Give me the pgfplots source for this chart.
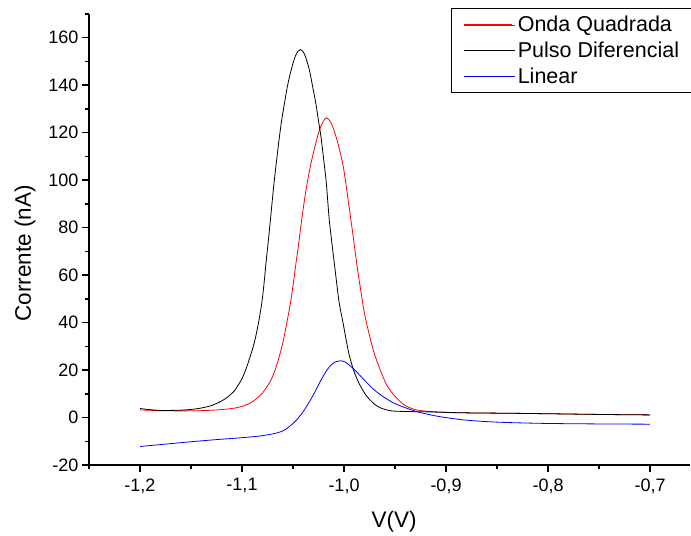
\documentclass[border=0pt]{standalone}
\usepackage{pgfplots}
\pgfplotsset{compat=1.18}
\usepackage{fontspec}
\setmainfont{Liberation Sans}
\usetikzlibrary{calc}
\begin{document}
\begin{tikzpicture}
\begin{axis}[
  name=ax,
  scale only axis=true,
  width=601bp, height=451bp,
  xmin=-1.25, xmax=-0.6608,
  ymin=-20, ymax=170,
  axis x line*=bottom, axis y line*=left,
  axis line style={line width=2bp},
  tick align=outside,
  major tick length=7bp, minor tick length=4bp,
  every tick/.style={black, line width=1.5bp},
  xtick={-1.2,-1.1,-1.0,-0.9,-0.8,-0.7},
  minor xtick={-1.25,-1.15,-1.05,-0.95,-0.85,-0.75},
  ytick={-20,0,20,40,60,80,100,120,140,160},
  minor ytick={-10,10,30,50,70,90,110,130,150,170},
  /pgf/number format/assume math mode=true,
  xticklabel style={/pgf/number format/.cd, fixed, fixed zerofill, precision=1, use comma, /tikz/.cd, yshift=-3bp},
  yticklabel style={/pgf/number format/.cd, fixed, precision=0},
  ticklabel style={font=\fontsize{18bp}{21bp}\selectfont},
  xlabel={V(V)}, ylabel={Corrente (nA)},
  label style={font=\fontsize{22.5bp}{26bp}\selectfont},
  xlabel style={yshift=-11bp, xshift=4.5bp},
  ylabel style={yshift=6bp, xshift=-14bp},
  xtick pos=bottom, ytick pos=left,
  clip=false,
  legend cell align=left,
  legend image code/.code={\draw[#1, line width=1bp] (0bp,0bp) -- (48bp,0bp); \path (0bp,0bp) -- (51bp,0bp);},
  legend style={at={(0.6023,1.0133)}, anchor=north west, draw=black, line width=0.8bp,
    font=\fontsize{21.5bp}{25bp}\selectfont, inner xsep=12bp, inner ysep=5.5bp,
    row sep=3.5bp, nodes={inner sep=2.5bp}},
]
\addplot[red, line width=0.8bp, smooth, tension=0.55] coordinates {
(-1.2,3.2) (-1.18,2.9) (-1.16,2.8) (-1.14,2.9) (-1.125,3.2) (-1.11,3.8) (-1.1,4.7)
(-1.09,6.6) (-1.08,10.3) (-1.0716,15.8) (-1.066,22) (-1.0601,31.3) (-1.056,40) (-1.0526,48)
(-1.0497,56.5) (-1.0471,65) (-1.0445,73) (-1.0422,81) (-1.0373,95.8) (-1.0324,107)
(-1.028,115) (-1.0242,121) (-1.0205,124.6) (-1.017,126.3) (-1.0125,124)
(-1.0078,118.3) (-1.0045,113) (-1.0013,107) (-0.9988,100.5) (-0.9964,93) (-0.9922,80)
(-0.9894,71) (-0.9866,62) (-0.983,52) (-0.98,44) (-0.975,34.5)
(-0.9703,27) (-0.964,19.5) (-0.9572,13) (-0.949,8.5) (-0.9409,5.3) (-0.933,3.7) (-0.9245,2.9)
(-0.91,2.4) (-0.885,2.0) (-0.84,1.8) (-0.8,1.6) (-0.75,1.3) (-0.7,1.1)
};
\addlegendentry{Onda Quadrada}
\addplot[black, line width=0.8bp, smooth, tension=0.55] coordinates {
(-1.2,3.8) (-1.19,3.3) (-1.18,3.0) (-1.17,3.0) (-1.16,3.1) (-1.15,3.4) (-1.14,4.0)
(-1.13,5.0) (-1.124,6.1) (-1.116,8.0) (-1.108,11) (-1.104,13.5) (-1.0993,17) (-1.094,23) (-1.088,31.5)
(-1.084,39.5) (-1.0807,48) (-1.0785,56) (-1.0765,65) (-1.0743,74) (-1.0722,83) (-1.0703,91.5) (-1.0683,100)
(-1.0659,109) (-1.0634,118) (-1.061,125.5) (-1.0585,132)
(-1.0555,139.5) (-1.052,146) (-1.0475,152.5) (-1.0428,155) (-1.0385,152.8) (-1.034,146.5)
(-1.0308,139.5) (-1.0275,132) (-1.025,125) (-1.0225,118) (-1.02,109)
(-1.0176,100) (-1.016,91.5) (-1.0144,83) (-1.012,74) (-1.0095,65) (-1.007,56) (-1.0046,48)
(-1.001,40) (-0.998,33) (-0.995,26.5) (-0.991,20.5)
(-0.987,16) (-0.982,11.8) (-0.977,8.6) (-0.97,5.6) (-0.964,4.0) (-0.957,3.1) (-0.951,2.7) (-0.935,2.5)
(-0.92,2.4) (-0.885,2.0) (-0.84,1.8) (-0.8,1.6) (-0.75,1.3) (-0.7,1.1)
};
\addlegendentry{Pulso Diferencial}
\addplot[blue, line width=0.8bp, smooth, tension=0.55] coordinates {
(-1.2,-12.2) (-1.175,-11.2) (-1.15,-10.2) (-1.125,-9.3) (-1.1,-8.5) (-1.085,-7.9) (-1.075,-7.3)
(-1.065,-6.4) (-1.0585,-5.3) (-1.053,-3.6) (-1.046,-0.8)
(-1.0389,3.2) (-1.031,8.8) (-1.0225,15.8) (-1.0175,19.5) (-1.0127,22.1) (-1.008,23.5) (-1.0036,23.9)
(-0.999,23.4) (-0.994,21.8) (-0.9882,19.5) (-0.9795,15.5) (-0.9703,11.6) (-0.9605,8.5) (-0.9507,6)
(-0.939,4.0) (-0.9278,2.4) (-0.916,1.2) (-0.905,0.3)
(-0.885,-0.9) (-0.865,-1.6) (-0.84,-2.1) (-0.8,-2.5) (-0.75,-2.7) (-0.7,-2.8)
};
\addlegendentry{Linear}
\end{axis}
\pgfresetboundingbox
\path ($(ax.south west)+(-89bp,-71bp)$) rectangle ($(ax.north east)+(1bp,14bp)$);
\end{tikzpicture}
\end{document}
